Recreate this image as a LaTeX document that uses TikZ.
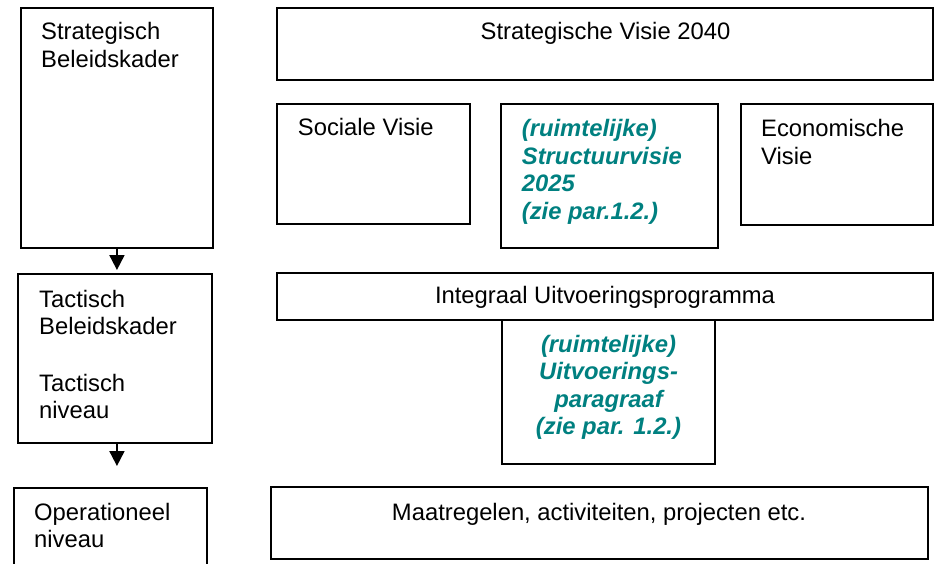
\documentclass[tikz,border=0pt]{standalone}
\usepackage{fontspec}
\setmainfont{Liberation Sans}
\usetikzlibrary{arrows.meta}
\definecolor{tealtxt}{RGB}{0,128,128}
\begin{document}
\begin{tikzpicture}[x=1pt,y=-1pt,
  box/.style={draw, line width=1.9pt, rectangle, inner sep=0pt, anchor=north west},
  lbl/.style={inner sep=0pt, font=\fontsize{23.8}{27.4}\selectfont},
  tealtext/.style={inner sep=0pt, font=\fontsize{23.8}{27.6}\selectfont\bfseries\itshape, text=tealtxt},
  arr/.style={line width=1.9pt, -{Triangle[length=15pt,width=15pt]}}]
\useasboundingbox (0,0) rectangle (934,564);
\clip (0,0) rectangle (934,564);
% boxes
\node[box, minimum width=192pt, minimum height=240pt] (strat) at (20,7) {};
\node[box, minimum width=194pt, minimum height=169pt] (tact) at (17,273) {};
\node[box, minimum width=193pt, minimum height=100pt] (oper) at (13,487) {};
\node[box, minimum width=656pt, minimum height=72pt] (svisie) at (276,7) {};
\node[box, minimum width=193pt, minimum height=120pt] (soc) at (276,103) {};
\node[box, minimum width=217pt, minimum height=144pt] (struct) at (500,103) {};
\node[box, minimum width=192pt, minimum height=121pt] (econ) at (740,103) {};
\node[box, minimum width=656pt, minimum height=47pt] (iup) at (276,272) {};
\node[box, minimum width=213.3pt, minimum height=144pt] (uitv) at (500.7,319) {};
\node[box, minimum width=657pt, minimum height=72pt] (maat) at (270,486) {};
% texts
\node[lbl, anchor=base west] (tstrat) at (41,40) {\parbox[t]{170pt}{\raggedright Strategisch\\Beleidskader}};
\node[lbl, anchor=base west] (ttact) at (39,307) {\parbox[t]{170pt}{\raggedright Tactisch\\Beleidskader\\[29.6pt]Tactisch\\niveau}};
\node[lbl, anchor=base west] (toper) at (34,520) {\parbox[t]{170pt}{\raggedright Operationeel\\niveau}};
\node[lbl, anchor=base] (tsvisie) at (605.5,40) {Strategische Visie 2040};
\node[lbl, anchor=base west] (tsoc) at (297.7,135.7) {Sociale Visie};
\node[tealtext, anchor=base west] (tstruct) at (521.7,136.7) {\parbox[t]{190pt}{\raggedright (ruimtelijke)\\Structuurvisie\\2025\\(zie par.1.2.)}};
\node[lbl, anchor=base west] (tecon) at (761,137) {\parbox[t]{170pt}{\raggedright Economische\\Visie}};
\node[lbl, anchor=base] (tiup) at (605,303) {Integraal Uitvoeringsprogramma};
\node[tealtext, anchor=base] (tuitv) at (608.5,352) {\parbox[t]{200pt}{\centering (ruimtelijke)\\Uitvoerings-\\paragraaf\\(zie par. 1.2.)}};
\node[lbl, anchor=base] (tmaat) at (599,520) {Maatregelen, activiteiten, projecten etc.};
% arrows
\draw[arr, shorten >=3pt] (strat.south) -- (strat.south |- tact.north);
\draw[arr, shorten >=21pt] (tact.south -| strat.south) -- (strat.south |- oper.north);
\end{tikzpicture}
\end{document}
